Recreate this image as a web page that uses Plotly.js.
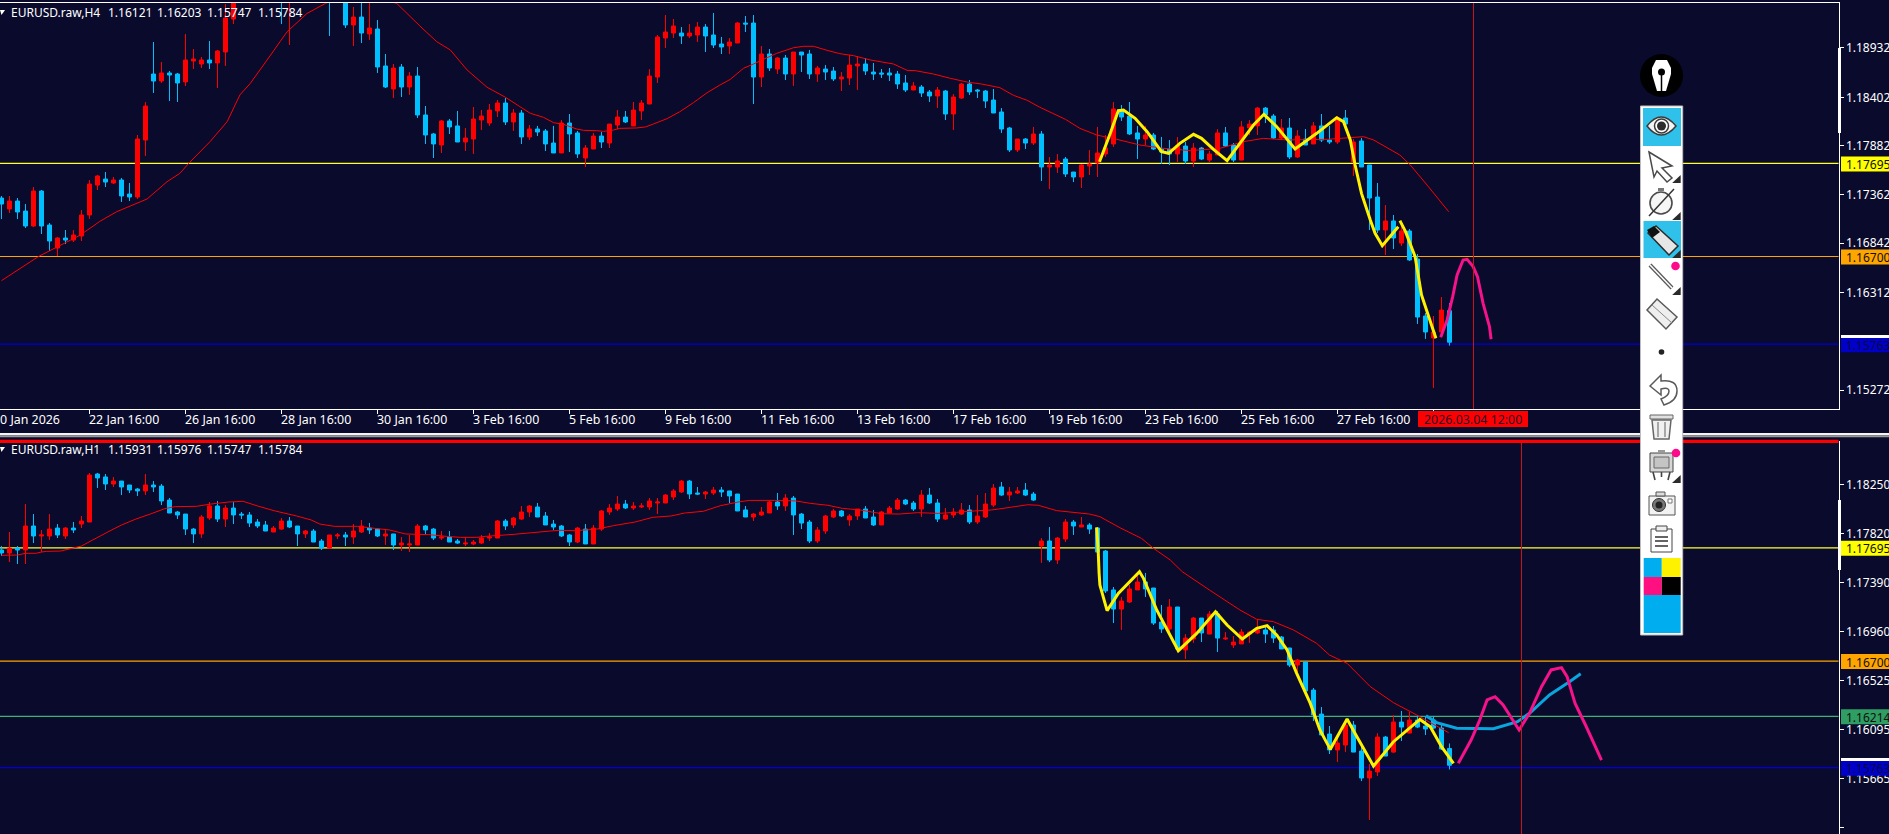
<!DOCTYPE html>
<html><head><meta charset="utf-8">
<script src="https://cdn.plot.ly/plotly-3.0.1.min.js"></script>
<style>html,body{margin:0;padding:0;background:#090A2C;overflow:hidden}#chart{width:1889px;height:834px}</style>
</head><body><div id="chart"></div>
<script>
// ---------- EURUSD H4 candles ----------
const h4Open=[1.17325,1.17208,1.17293,1.17186,1.17026,1.17400,1.17037,1.16791,1.16898,1.16876,
1.16919,1.17144,1.17464,1.17528,1.17486,1.17518,1.17368,1.17336,1.17945,1.18651,
1.18576,1.18662,1.18651,1.18566,1.18790,1.18758,1.18801,1.18769,1.18886,1.19239,
1.19517,1.19650,1.19780,1.19900,1.19800,1.20020,1.19500,1.19800,1.19600,1.19520,
1.19700,1.19850,1.19500,1.19600,1.19175,1.19260,1.19079,1.19132,1.18737,1.18491,
1.18726,1.18512,1.18630,1.18213,1.18010,1.17892,1.18149,1.18096,1.17924,1.17956,
1.18159,1.18127,1.18256,1.18341,1.18138,1.18234,1.17978,1.18063,1.18042,1.17913,
1.17807,1.18127,1.18021,1.17753,1.17849,1.17988,1.17913,1.18106,1.18191,1.18096,
1.18256,1.18330,1.18619,1.19036,1.19089,1.19089,1.19057,1.19068,1.19153,1.19068,
1.18972,1.18950,1.18982,1.19196,1.19196,1.18619,1.18865,1.18704,1.18822,1.18651,
1.18886,1.18865,1.18651,1.18704,1.18683,1.18598,1.18608,1.18737,1.18758,1.18672,
1.18662,1.18662,1.18651,1.18555,1.18480,1.18512,1.18459,1.18416,1.18469,1.18223,
1.18394,1.18544,1.18480,1.18469,1.18373,1.18245,1.18074,1.17839,1.17956,1.17913,
1.18010,1.17657,1.17657,1.17742,1.17603,1.17550,1.17667,1.17700,1.17796,1.17903,
1.18266,1.18202,1.18021,1.17956,1.17999,1.17849,1.17849,1.17796,1.17881,1.17721,
1.17860,1.17731,1.17785,1.18021,1.17892,1.17731,1.18074,1.18096,1.18287,1.18202,
1.17967,1.18074,1.17764,1.17956,1.17903,1.18096,1.17945,1.17924,1.18181,1.17710,
1.17935,1.17678,1.17336,1.16983,1.17080,1.16844,1.16973,1.16673,1.16064,1.15829,
1.15893,1.16121];
const h4High=[1.17347,1.17347,1.17325,1.17261,1.17443,1.17411,1.17058,1.16909,1.16983,1.16983,
1.17197,1.17518,1.17571,1.17603,1.17550,1.17539,1.17486,1.17999,1.18352,1.18993,
1.18779,1.18683,1.18662,1.19079,1.18918,1.18833,1.19004,1.18908,1.19399,1.19656,
1.19720,1.19850,1.19980,1.20000,1.20080,1.20100,1.19950,1.19900,1.19800,1.19800,
1.19900,1.19950,1.19700,1.19700,1.19367,1.19450,1.19500,1.19228,1.18865,1.18758,
1.18758,1.18672,1.18726,1.18309,1.18021,1.18159,1.18170,1.18256,1.18074,1.18298,
1.18266,1.18330,1.18373,1.18394,1.18277,1.18266,1.18106,1.18096,1.18063,1.18096,
1.18159,1.18223,1.18042,1.17892,1.18021,1.18031,1.18116,1.18266,1.18256,1.18352,
1.18373,1.18704,1.19068,1.19282,1.19239,1.19153,1.19185,1.19207,1.19185,1.19303,
1.19047,1.19036,1.19207,1.19271,1.19282,1.18950,1.18918,1.18833,1.18854,1.18886,
1.18886,1.18908,1.18737,1.18747,1.18726,1.18672,1.18854,1.18843,1.18822,1.18769,
1.18704,1.18715,1.18683,1.18640,1.18566,1.18533,1.18480,1.18512,1.18480,1.18437,
1.18555,1.18587,1.18491,1.18480,1.18491,1.18287,1.18085,1.17956,1.17967,1.18085,
1.18042,1.17764,1.17796,1.17764,1.17603,1.17689,1.17839,1.18085,1.17999,1.18352,
1.18319,1.18352,1.18096,1.18096,1.18021,1.17978,1.17945,1.17978,1.17924,1.17913,
1.17871,1.17828,1.18063,1.18085,1.17913,1.18149,1.18159,1.18298,1.18298,1.18223,
1.18170,1.18181,1.18052,1.18063,1.18138,1.18223,1.18096,1.18202,1.18266,1.17956,
1.17967,1.17678,1.17486,1.17251,1.17144,1.17037,1.16994,1.16727,1.16096,1.16064,
1.16267,1.16203];
const h4Low=[1.17101,1.17165,1.17101,1.17005,1.17015,1.16941,1.16759,1.16705,1.16834,1.16855,
1.16866,1.17101,1.17411,1.17443,1.17475,1.17283,1.17293,1.17315,1.17775,1.18448,
1.18555,1.18362,1.18352,1.18523,1.18704,1.18715,1.18704,1.18501,1.18737,1.19185,
1.19450,1.19560,1.19700,1.19700,1.19750,1.19185,1.18961,1.19550,1.19480,1.19450,
1.19600,1.19057,1.19450,1.19143,1.18950,1.18982,1.19014,1.18662,1.18501,1.18394,
1.18405,1.18427,1.18181,1.17903,1.17753,1.17807,1.18010,1.17924,1.17828,1.17796,
1.18052,1.18096,1.18191,1.18106,1.18042,1.17903,1.17945,1.17988,1.17828,1.17807,
1.17807,1.17817,1.17753,1.17657,1.17849,1.17860,1.17860,1.18063,1.18127,1.18096,
1.18159,1.18330,1.18555,1.18929,1.19036,1.18972,1.19036,1.18993,1.18886,1.18929,
1.18865,1.18865,1.18982,1.19100,1.18330,1.18512,1.18683,1.18651,1.18587,1.18523,
1.18672,1.18598,1.18566,1.18587,1.18576,1.18469,1.18533,1.18480,1.18640,1.18587,
1.18608,1.18576,1.18491,1.18459,1.18480,1.18405,1.18352,1.18287,1.18159,1.18052,
1.18384,1.18427,1.18394,1.18287,1.18234,1.18021,1.17817,1.17817,1.17849,1.17892,
1.17507,1.17421,1.17593,1.17550,1.17496,1.17432,1.17571,1.17550,1.17764,1.17871,
1.18149,1.17999,1.17742,1.17892,1.17839,1.17689,1.17678,1.17710,1.17689,1.17657,
1.17731,1.17710,1.17785,1.17871,1.17710,1.17731,1.17999,1.17999,1.18127,1.17956,
1.17956,1.17742,1.17753,1.17892,1.17903,1.17924,1.17903,1.17903,1.18106,1.17561,
1.17657,1.16983,1.16951,1.16716,1.16780,1.16812,1.16652,1.15979,1.15819,1.15295,
1.15893,1.15747];
const h4Close=[1.17261,1.17293,1.17176,1.17026,1.17400,1.17026,1.16866,1.16898,1.16876,1.16930,
1.17144,1.17475,1.17561,1.17496,1.17518,1.17347,1.17336,1.17956,1.18309,1.18576,
1.18662,1.18640,1.18555,1.18801,1.18811,1.18801,1.18769,1.18897,1.19250,1.19517,
1.19650,1.19780,1.19900,1.19800,1.20020,1.19900,1.19800,1.19600,1.19520,1.19700,
1.19850,1.19500,1.19600,1.19175,1.19260,1.19089,1.19143,1.18726,1.18512,1.18715,
1.18512,1.18630,1.18213,1.17999,1.17903,1.18149,1.18085,1.17924,1.17967,1.18170,
1.18202,1.18266,1.18341,1.18138,1.18234,1.17978,1.18063,1.18031,1.17903,1.17807,
1.18127,1.18010,1.17796,1.17860,1.17988,1.17924,1.18116,1.18191,1.18138,1.18266,
1.18341,1.18630,1.19047,1.19100,1.19164,1.19057,1.19089,1.19153,1.19057,1.18961,
1.18940,1.18993,1.19196,1.19185,1.18619,1.18865,1.18715,1.18822,1.18651,1.18886,
1.18854,1.18651,1.18715,1.18672,1.18598,1.18619,1.18747,1.18758,1.18683,1.18651,
1.18651,1.18640,1.18544,1.18480,1.18523,1.18448,1.18416,1.18480,1.18223,1.18405,
1.18544,1.18459,1.18469,1.18362,1.18234,1.18063,1.17839,1.17956,1.17913,1.18010,
1.17657,1.17678,1.17721,1.17582,1.17550,1.17678,1.17689,1.17807,1.17860,1.18277,
1.18191,1.18010,1.17956,1.17999,1.17849,1.17817,1.17796,1.17881,1.17721,1.17860,
1.17742,1.17796,1.18021,1.17881,1.17731,1.18085,1.18116,1.18287,1.18213,1.17967,
1.18074,1.17764,1.17988,1.17892,1.18096,1.17945,1.17924,1.18181,1.18116,1.17924,
1.17657,1.17325,1.16983,1.17080,1.16898,1.16973,1.16663,1.16053,1.15893,1.15893,
1.16128,1.15784];

// ---------- EURUSD H1 candles ----------
const h1Open=[1.17676,1.17650,1.17693,1.17676,1.17887,1.17799,1.17799,1.17869,1.17799,1.17869,
1.17904,1.17922,1.18344,1.18318,1.18256,1.18282,1.18247,1.18212,1.18195,1.18247,
1.18238,1.18115,1.18010,1.17992,1.17860,1.17817,1.17957,1.18063,1.17948,1.18045,
1.17992,1.17984,1.17922,1.17896,1.17834,1.17860,1.17931,1.17887,1.17817,1.17843,
1.17755,1.17693,1.17799,1.17808,1.17790,1.17834,1.17869,1.17860,1.17799,1.17817,
1.17720,1.17720,1.17720,1.17887,1.17860,1.17781,1.17790,1.17755,1.17729,1.17729,
1.17737,1.17781,1.17781,1.17931,1.17896,1.17948,1.18010,1.18054,1.17975,1.17904,
1.17887,1.17808,1.17746,1.17860,1.17729,1.17860,1.18010,1.18036,1.18080,1.18045,
1.18054,1.18054,1.18089,1.18089,1.18142,1.18186,1.18282,1.18177,1.18168,1.18177,
1.18203,1.18195,1.18168,1.18028,1.17966,1.17984,1.18001,1.18098,1.18063,1.18133,
1.17992,1.17922,1.17755,1.17843,1.17966,1.18019,1.17940,1.17975,1.18036,1.17966,
1.17896,1.18001,1.18036,1.18115,1.18089,1.18036,1.18159,1.18089,1.17948,1.17984,
1.17992,1.18028,1.17922,1.17966,1.18071,1.18230,1.18159,1.18177,1.18203,1.18168,
1.17711,1.17755,1.17588,1.17773,1.17922,1.17878,1.17896,1.17869,1.17667,1.17325,
1.17157,1.17219,1.17325,1.17395,1.17342,1.17043,1.16982,1.17175,1.16797,1.16894,
1.17078,1.16937,1.17113,1.16894,1.16841,1.16850,1.16937,1.16947,1.16973,1.16973,
1.16911,1.16815,1.16665,1.16691,1.16445,1.16234,1.16059,1.15918,1.15962,1.16138,
1.15909,1.15672,1.15725,1.16032,1.15900,1.16164,1.16067,1.16182,1.16129,1.16182,
1.16111,1.15931];
const h1High=[1.17711,1.17834,1.17711,1.18080,1.17992,1.17852,1.17992,1.17904,1.17878,1.17922,
1.17975,1.18353,1.18353,1.18344,1.18318,1.18282,1.18247,1.18221,1.18344,1.18282,
1.18256,1.18133,1.18019,1.17992,1.17869,1.17984,1.18098,1.18107,1.18071,1.18098,
1.18010,1.18010,1.17948,1.17931,1.17887,1.17957,1.17966,1.17887,1.17852,1.17860,
1.17773,1.17808,1.17825,1.17834,1.17904,1.17940,1.17913,1.17869,1.17852,1.17817,
1.17790,1.17808,1.17904,1.17896,1.17869,1.17843,1.17843,1.17773,1.17790,1.17764,
1.17808,1.17825,1.17940,1.17948,1.17966,1.18063,1.18071,1.18089,1.18010,1.17940,
1.17896,1.17817,1.17878,1.17904,1.17896,1.18028,1.18080,1.18151,1.18115,1.18098,
1.18089,1.18133,1.18133,1.18168,1.18212,1.18291,1.18291,1.18230,1.18195,1.18230,
1.18230,1.18195,1.18168,1.18063,1.18001,1.18054,1.18107,1.18177,1.18168,1.18151,
1.18001,1.17940,1.17878,1.17984,1.18036,1.18028,1.17992,1.18036,1.18063,1.18028,
1.18019,1.18063,1.18133,1.18124,1.18107,1.18203,1.18221,1.18124,1.18045,1.18045,
1.18089,1.18071,1.18159,1.18177,1.18256,1.18274,1.18230,1.18230,1.18265,1.18186,
1.17781,1.17878,1.17790,1.17948,1.17940,1.17966,1.17913,1.17878,1.17676,1.17351,
1.17263,1.17368,1.17474,1.17474,1.17342,1.17193,1.17245,1.17175,1.16937,1.17087,
1.17078,1.17140,1.17140,1.16955,1.16920,1.16982,1.16964,1.17069,1.17008,1.17008,
1.16920,1.16815,1.16718,1.16700,1.16463,1.16296,1.16129,1.16059,1.16182,1.16173,
1.15962,1.15795,1.16067,1.16041,1.16226,1.16261,1.16252,1.16226,1.16217,1.16217,
1.16156,1.15976];
const h1Low=[1.17623,1.17570,1.17553,1.17553,1.17737,1.17658,1.17764,1.17781,1.17773,1.17825,
1.17869,1.17922,1.18221,1.18203,1.18230,1.18159,1.18177,1.18151,1.18159,1.18186,
1.18071,1.18001,1.17948,1.17808,1.17737,1.17781,1.17940,1.17922,1.17878,1.17904,
1.17948,1.17878,1.17869,1.17843,1.17834,1.17852,1.17869,1.17711,1.17781,1.17746,
1.17676,1.17685,1.17773,1.17711,1.17729,1.17825,1.17817,1.17790,1.17720,1.17676,
1.17667,1.17658,1.17720,1.17817,1.17764,1.17764,1.17746,1.17729,1.17711,1.17720,
1.17729,1.17755,1.17781,1.17852,1.17869,1.17940,1.17966,1.17966,1.17896,1.17852,
1.17790,1.17711,1.17737,1.17729,1.17729,1.17843,1.17984,1.18019,1.18036,1.18028,
1.18045,1.18028,1.17992,1.18089,1.18115,1.18177,1.18124,1.18159,1.18124,1.18159,
1.18142,1.18089,1.18019,1.17966,1.17931,1.17975,1.18001,1.18028,1.18019,1.17808,
1.17860,1.17737,1.17737,1.17817,1.17957,1.17966,1.17887,1.17940,1.17957,1.17887,
1.17896,1.18001,1.18028,1.18071,1.18019,1.17966,1.18080,1.17922,1.17940,1.17957,
1.17984,1.17904,1.17904,1.17957,1.18054,1.18151,1.18107,1.18168,1.18151,1.18107,
1.17562,1.17570,1.17553,1.17746,1.17808,1.17878,1.17817,1.17658,1.17298,1.17034,
1.16973,1.17210,1.17325,1.17263,1.17017,1.16947,1.16947,1.16797,1.16718,1.16859,
1.16867,1.16937,1.16779,1.16885,1.16815,1.16850,1.16859,1.16937,1.16859,1.16859,
1.16806,1.16647,1.16604,1.16428,1.16173,1.16050,1.15883,1.15812,1.15900,1.15900,
1.15645,1.15303,1.15689,1.15865,1.15892,1.15997,1.16067,1.16111,1.16050,1.16103,
1.15918,1.15747];
const h1Close=[1.17650,1.17693,1.17676,1.17887,1.17799,1.17808,1.17860,1.17808,1.17869,1.17852,
1.17931,1.18335,1.18309,1.18256,1.18282,1.18230,1.18203,1.18195,1.18247,1.18230,
1.18107,1.18001,1.17984,1.17860,1.17817,1.17966,1.18063,1.17948,1.18045,1.17984,
1.17984,1.17913,1.17887,1.17843,1.17869,1.17931,1.17878,1.17817,1.17843,1.17746,
1.17693,1.17808,1.17808,1.17790,1.17843,1.17887,1.17852,1.17799,1.17817,1.17720,
1.17737,1.17729,1.17887,1.17852,1.17781,1.17790,1.17746,1.17737,1.17737,1.17746,
1.17781,1.17790,1.17931,1.17887,1.17957,1.18010,1.18063,1.17966,1.17896,1.17878,
1.17799,1.17746,1.17869,1.17729,1.17869,1.18019,1.18045,1.18080,1.18045,1.18063,
1.18063,1.18107,1.18098,1.18159,1.18195,1.18282,1.18168,1.18168,1.18186,1.18203,
1.18186,1.18151,1.18019,1.17966,1.17992,1.18010,1.18098,1.18063,1.18133,1.17984,
1.17913,1.17755,1.17852,1.17975,1.18019,1.17975,1.17975,1.18036,1.17957,1.17896,
1.18010,1.18045,1.18115,1.18080,1.18036,1.18159,1.18089,1.17948,1.17984,1.18010,
1.18028,1.17922,1.17975,1.18080,1.18221,1.18159,1.18186,1.18195,1.18159,1.18115,
1.17755,1.17588,1.17781,1.17922,1.17887,1.17896,1.17860,1.17658,1.17316,1.17157,
1.17228,1.17334,1.17395,1.17334,1.17034,1.16982,1.17175,1.16806,1.16902,1.17078,
1.16947,1.17113,1.16902,1.16902,1.16867,1.16955,1.16955,1.16973,1.16937,1.16902,
1.16806,1.16665,1.16709,1.16437,1.16226,1.16050,1.15918,1.15979,1.16138,1.15900,
1.15672,1.15733,1.16032,1.15865,1.16164,1.16120,1.16182,1.16120,1.16103,1.16111,
1.15927,1.15784];
const barIndex=h4Open.map((_,i)=>i);

// ---------- moving averages (bar number, price) ----------
const h4MaBar=[0,4.6,9.8,12.3,14.4,18.2,20.7,22.3,23.4,26.1,28.2,29.8,31.1,33.2,35.7,38.2,40.5,43.2,45.7,49.4,52.3,54.4,56.1,58.2,60.7,63,64.8,66.1,67.75,69,70.25,71.9,72.75,74.4,75.25,76.5,77.3,79.4,80.5,81.5,83.2,84.8,86.5,88.2,89.8,91.1,92.75,94,95.25,96.9,99,100.25,101.5,103.2,104.8,106.5,108.6,111.5,113.2,114.2,116.5,118.6,120.7,122.5,124.8,126.5,128.2,129.8,133,134.8,136.9,139.4,142.3,145.25,148.6,152.3,155.25,157.75,160.7,165.7,170.25,171.5,174.8,176.1,178.2,180.9];
const h4MaPrice=[1.16442,1.16699,1.16927,1.17076,1.17179,1.17315,1.17500,1.17589,1.17696,1.17931,1.18141,1.18427,1.18551,1.18801,1.19103,1.19299,1.19406,1.19495,1.19495,1.19406,1.19164,1.18997,1.18908,1.18694,1.18509,1.18402,1.18302,1.18231,1.18188,1.18131,1.18113,1.18063,1.18049,1.18045,1.18038,1.18052,1.18070,1.18074,1.18085,1.18117,1.18174,1.18248,1.18345,1.18451,1.18533,1.18594,1.18712,1.18758,1.18808,1.18872,1.18932,1.18947,1.18947,1.18904,1.18868,1.18847,1.18801,1.18758,1.18690,1.18687,1.18651,1.18605,1.18565,1.18544,1.18505,1.18423,1.18370,1.18295,1.18166,1.18070,1.17999,1.17953,1.17892,1.17856,1.17832,1.17856,1.17928,1.17963,1.17946,1.17953,1.17981,1.17946,1.17785,1.17678,1.17464,1.17179];
const h1MaBar=[0,2,3,4.3,5,5.6,7.4,8.3,10,11.4,13.2,15,16.8,18.6,20.4,21.7,24.4,26.2,28.4,30.2,32,34.2,36.9,38.7,39.8,41.6,44.5,46.7,48.5,50.5,53.4,55.6,57.4,59.4,60.5,62.3,64.1,66.3,68.6,69.8,71.6,74.3,76.5,79.2,81.4,83.7,85.4,87.7,89.9,92.1,93.5,96.6,99.3,101.1,103.3,105.1,107.3,110,112.2,114.5,117.1,119.4,121.6,123.8,126.1,128.3,129.6,131.9,136,137.3,139.8,142.5,144,146.1,147.6,151,154.8,156.9,159,161.5,164.4,166,168.2,171.1,174,176.9,180.9];
const h1MaPrice=[1.17629,1.17632,1.17647,1.17647,1.17658,1.17664,1.17667,1.17682,1.17711,1.17764,1.17831,1.17896,1.17948,1.17992,1.18039,1.18057,1.18060,1.18080,1.18098,1.18104,1.18063,1.18019,1.17975,1.17940,1.17904,1.17884,1.17884,1.17866,1.17852,1.17817,1.17811,1.17796,1.17787,1.17787,1.17796,1.17805,1.17814,1.17828,1.17843,1.17849,1.17846,1.17858,1.17890,1.17922,1.17963,1.17975,1.18001,1.18016,1.18066,1.18098,1.18112,1.18112,1.18107,1.18086,1.18069,1.18042,1.18028,1.17995,1.17992,1.18004,1.17998,1.18007,1.18019,1.18028,1.18051,1.18074,1.18069,1.18022,1.17992,1.17969,1.17872,1.17778,1.17691,1.17588,1.17485,1.17324,1.17149,1.17067,1.17046,1.16973,1.16855,1.16753,1.16680,1.16475,1.16334,1.16226,1.16070];

// ---------- hand-drawn pen strokes (bar number, price) ----------
const h4YellowBar1=[137.25,138.6,139.6,140.25,141.7,143.2,145,145.9,147.3,149,150,151.5,153.2,154.8,156.5,157.8,159.4,161.7,164.4,166.9,167.75,168.6,169.2,170,171.1,171.7,172.6,174.6];
const h4YellowPrice1=[1.17714,1.18017,1.18259,1.18266,1.18177,1.18035,1.17821,1.17803,1.17910,1.18006,1.17963,1.17846,1.17725,1.17910,1.18106,1.18220,1.18088,1.17849,1.18017,1.18184,1.18142,1.17946,1.17678,1.17375,1.17090,1.16948,1.16816,1.17019];
const h4YellowBar2=[174.8,175.5,176.7,177.5,179.3];
const h4YellowPrice2=[1.17083,1.16966,1.16699,1.16289,1.15826];
const h4PinkBar=[179.9,180.7,181.4,181.95,182.7,183.2,183.95,184.5,185.2,186,186.2];
const h4PinkPrice=[1.15836,1.16022,1.16271,1.16503,1.16663,1.16670,1.16592,1.16485,1.16200,1.15950,1.15815];
const h1YellowBar=[136.9,137.1,137.2,137.3,138.2,139.6,142.25,142.75,144.4,147.1,149.4,151.75,153.2,155.1,156.9,158.2,159.4,160.7,161.9,163.6,164.8,166.1,168.2,169.2,171.5,174,177.3,178.6,180,181.5];
const h1YellowPrice=[1.17875,1.17647,1.17471,1.17368,1.17143,1.17295,1.17485,1.17427,1.17149,1.16791,1.16943,1.17134,1.17017,1.16894,1.16987,1.17011,1.16929,1.16797,1.16592,1.16328,1.16094,1.15924,1.16190,1.16064,1.15777,1.15991,1.16187,1.16123,1.15947,1.15801];
const h1BlueBar=[178.06,179.4,181.9,186.5,189.5,191,193.5,196,197.4];
const h1BluePrice=[1.16220,1.16159,1.16109,1.16106,1.16167,1.16241,1.16402,1.16519,1.16589];
const h1PinkBar=[182.1,183.7,184.7,185.7,186.7,187.7,189.7,191,192.5,193.7,195,195.7,196.7,198,200];
const h1PinkPrice=[1.15801,1.16006,1.16167,1.16358,1.16387,1.16314,1.16094,1.16241,1.16475,1.16622,1.16642,1.16563,1.16328,1.16138,1.15830];

// ---------- axes, levels and texts ----------
const h4Ticks=[1.18932,1.18402,1.17882,1.17362,1.16842,1.16312,1.15272];
const h1Ticks=[1.18250,1.17820,1.17390,1.16960,1.16525,1.16095,1.15665,1.15235];
const dateTickBars=[11,23,35,47,59,71,83,95,107,119,131,143,155,167,179];
const dateLabelBars=[-1,11,23,35,47,59,71,83,95,107,119,131,143,155,167];
const dateLabels=['20 Jan 2026','22 Jan 16:00','26 Jan 16:00','28 Jan 16:00','30 Jan 16:00','3 Feb 16:00','5 Feb 16:00','9 Feb 16:00','11 Feb 16:00','13 Feb 16:00','17 Feb 16:00','19 Feb 16:00','23 Feb 16:00','25 Feb 16:00','27 Feb 16:00'];
const h4Levels=[1.17695,1.16700,1.15763];
const h4LevelColors=['#FFFF33','#FFA500','#0000D8'];
const h1Levels=[1.17695,1.16700,1.16214,1.15763];
const h1LevelColors=['#FFFF33','#FFA500','#3CB371','#0000D8'];
const h4Crosshair=184, h1Crosshair=190;
const h4Name='EURUSD.raw,H4', h1Name='EURUSD.raw,H1';
const h4Quote=['1.16121','1.16203','1.15747','1.15784'];
const h1Quote=['1.15931','1.15976','1.15747','1.15784'];
const crossLabel='2026.03.04 12:00';

// ---------- styling / page geometry ----------
const W=1889,H=834,BG='#090A2C',FONT='"Noto Sans", sans-serif';
const PX=x=>x/W, PY=y=>1-y/H;
const toPaper=d=>d.replace(/(-?[\d.]+)[ ,]+(-?[\d.]+)/g,(m,a,b)=>PX(+a)+' '+PY(+b));
const shapes=[];
const rect=(x0,y0,x1,y1,fill,line,layer)=>shapes.push({type:'rect',xref:'paper',yref:'paper',x0:PX(x0),x1:PX(x1),y0:PY(y0),y1:PY(y1),fillcolor:fill,line:line?{color:line,width:1}:{width:0},layer:layer||'above'});
const circ=(cx,cy,r,fill,line,w)=>shapes.push({type:'circle',xref:'paper',yref:'paper',x0:PX(cx-r),x1:PX(cx+r),y0:PY(cy-r),y1:PY(cy+r),fillcolor:fill,line:line?{color:line,width:w||1}:{width:0},layer:'above'});
const path=(d,fill,line,w)=>shapes.push({type:'path',xref:'paper',yref:'paper',path:toPaper(d),fillcolor:fill||'rgba(0,0,0,0)',line:line?{color:line,width:w||1}:{width:0},layer:'above'});

// levels drawn behind the candles, crosshairs
h4Levels.forEach((v,i)=>shapes.push({type:'line',xref:'x',yref:'y',x0:-1,x1:230,y0:v,y1:v,line:{color:h4LevelColors[i],width:1.2},layer:'below'}));
h1Levels.forEach((v,i)=>shapes.push({type:'line',xref:'x2',yref:'y2',x0:-1,x1:230,y0:v,y1:v,line:{color:h1LevelColors[i],width:1.2},layer:'below'}));
shapes.push({type:'line',xref:'x',yref:'paper',x0:h4Crosshair,x1:h4Crosshair,y0:PY(409),y1:PY(3),line:{color:'#C8141A',width:1},layer:'above'});
shapes.push({type:'line',xref:'x2',yref:'paper',x0:h1Crosshair,x1:h1Crosshair,y0:0,y1:PY(441),line:{color:'#C8141A',width:1},layer:'above'});

// price tags on the right-hand scale
const tagFill=c=>c==='#0000D8'?'#0000C8':(c==='#3CB371'?'#2E9E62':(c==='#FFFF33'?'#FFFF00':c));
const anns=[];
function tag(v,c,y){
  shapes.push({type:'rect',xref:'paper',yref:y,ysizemode:'pixel',yanchor:v,x0:PX(1841),x1:1,y0:-8,y1:7,fillcolor:tagFill(c),line:{width:0},layer:'above'});
  anns.push({xref:'paper',yref:y,x:PX(1844),y:v,xanchor:'left',yanchor:'middle',yshift:-1,text:v.toFixed(5),showarrow:false,font:{family:FONT,size:12,color:c==='#0000D8'?'#0A0A40':'#101010'}});
}
h4Levels.forEach((v,i)=>tag(v,h4LevelColors[i],'y'));
h1Levels.forEach((v,i)=>tag(v,h1LevelColors[i],'y2'));
rect(1841,335,1889,338,'#FFFFFF');
rect(1841,758,1889,761,'#FFFFFF');
rect(1838,48,1841,133,'#FFFFFF');
rect(1838,500,1841,570,'#FFFFFF');

// frames and pane separator
rect(0,433,1889,435.3,'#F4F4F4');
rect(0,435.3,1889,437.3,'#9A9A9A');
rect(0,439.7,1838.5,443,'#FF0000');
rect(1418,411,1528,427,'#FF0000');
anns.push({xref:'paper',yref:'paper',x:PX(1473),y:PY(419),xanchor:'center',yanchor:'middle',text:crossLabel,showarrow:false,font:{family:FONT,size:12.4,color:'#2A0A2C'}});

// date labels (start at their tick, as the terminal draws them)
dateLabelBars.forEach((b,i)=>anns.push({xref:'paper',yref:'paper',x:PX(1.5+8*b-2.5),y:PY(419.5),xanchor:'left',yanchor:'middle',text:dateLabels[i],showarrow:false,font:{family:FONT,size:12.4,color:'#FFFFFF'}}));
// pane captions: symbol name, then the four quotes at their own places
const quoteStarts=[105.6,154.6,204.6,255.6];
[[h4Name,h4Quote,12.5],[h1Name,h1Quote,449.5]].forEach(([n,q,y])=>{
  anns.push({xref:'paper',yref:'paper',x:PX(8.6),y:PY(y),xanchor:'left',yanchor:'middle',text:n,showarrow:false,font:{family:FONT,size:12,color:'#FFFFFF'}});
  q.forEach((t,i)=>anns.push({xref:'paper',yref:'paper',x:PX(quoteStarts[i]),y:PY(y),xanchor:'left',yanchor:'middle',text:t,showarrow:false,font:{family:FONT,size:12,color:'#FFFFFF'}}));
  path(`M0 ${y-2.5} L5 ${y-2.5} L1.5 ${y+2.5} Z`,'#FFFFFF');
});

// ---------- floating drawing toolbar ----------
const G='#4A4A4A';
circ(1661.5,75.5,21.5,'#000000');
path('M1656 60 L1667 60 L1671 68 L1671 74 L1666 91 L1657 91 L1652 74 L1652 68 Z','#FFFFFF');
circ(1661.5,72,3.5,'#000000');
path('M1661.5 75 L1661.5 91','', '#000000',1.5);
rect(1640.5,106,1682.7,635,'#FFFFFF','#BDBDBD');
rect(1643,108,1681,146,'#2FC1EA');
path('M1647 126 Q1661 108 1676 126 Q1661 144 1647 126 Z','#F4F4F4','#3A3A3A',1.5);
circ(1661.5,126,7,'#FFFFFF','#3A3A3A',1.5);
circ(1661.5,126,4.5,'#2B2B2B');
path('M1649 152 L1672 166 L1662 168 L1672 178 L1667 182 L1657 171 L1654 177 Z','#FFFFFF',G,1.5);
const corner=(x,y)=>path(`M${x} ${y-8} L${x} ${y} L${x-8.5} ${y} Z`,'#2A2A2A');
corner(1680.7,183);
circ(1661,203,11,'#F6F6F6',G,1.6);
rect(1658,188,1664,191,'#777777');
path('M1674 189 L1649 216','', '#333333',1.5);
corner(1680.7,220);
rect(1643.5,221,1681,258,'#2FC1EA');
path('M1648 233 L1656 226 L1678 246 L1669 255 Z','#E6E6E6','#2B2B2B',1.5);
path('M1647 230 L1654 226 L1660 232 L1652 238 Z','#111111');
corner(1680.7,258);
path('M1650 265 L1672 288','', '#5A5A5A',4);
path('M1650 265 L1672 288','', '#FFFFFF',1.5);
circ(1675.5,266,4.3,'#FF0A8C');
corner(1680.7,295);
path('M1647 310 L1657 299 L1677 317 L1666 329 Z','#EFEFEF','#5A5A5A',1.5);
path('M1652 305 L1672 323','', '#888888',1);
circ(1661.5,352,2.8,'#222222');
path('M1650 386 L1661 375 L1661 381 Q1677 379 1677 391 Q1677 401 1664 405 L1661 399 Q1669 396 1669 391 Q1669 387 1661 389 L1661 395 Z','#FFFFFF','#5A5A5A',1.5);
path('M1652 420 L1671 420 L1669 439 L1654 439 Z','#F0F0F0','#666666',1.5);
rect(1650,415,1673,419,'#E0E0E0','#666666');
path('M1658 422 L1658 437 M1665 422 L1665 437','', '#777777',1.2);
rect(1650,453,1673,472,'#D6D6D6','#444444');
rect(1654,457,1669,468,'#C4C4C4','#666666');
rect(1658,450,1665,453,'#999999');
path('M1653 472 L1655 480 M1670 472 L1668 480 M1661.5 472 L1661.5 477','', '#444444',1.6);
circ(1676,453,4.3,'#FF0A8C');
path('M1680.7 475 L1680.7 483 L1672 483 Z','#2A2A2A');
rect(1649,496,1675,515,'#F2F2F2','#555555');
rect(1656,492,1665,496,'#DDDDDD','#555555');
circ(1659,505,6.5,'#777777','#333333',1);
circ(1659,505,3.5,'#222222');
rect(1668,499,1672,503,'#FFFFFF','#777777');
rect(1651,529,1672,552,'#FFFFFF','#444444');
rect(1656,526,1667,531,'#EEEEEE','#444444');
path('M1655 537 L1668 537 M1655 541 L1668 541 M1655 546 L1668 546','', '#333333',1.3);
rect(1643.7,558,1661.8,577,'#00AEEF');
rect(1661.8,558,1680.7,577,'#FFF200');
rect(1643.7,577,1661.8,595,'#FF0F80');
rect(1661.8,577,1680.7,595,'#000000');
rect(1643.7,595,1680.7,633,'#00AEEF');

// ---------- traces ----------
const candle=(o,h,l,c,xa,ya)=>({type:'candlestick',x:barIndex,open:o,high:h,low:l,close:c,xaxis:xa,yaxis:ya,whiskerwidth:0,
  increasing:{line:{color:'#FF0000',width:1},fillcolor:'#FF0000'},decreasing:{line:{color:'#00BFFF',width:1},fillcolor:'#00BFFF'},showlegend:false,hoverinfo:'skip'});
const stroke=(x,y,c,w,xa,ya)=>({type:'scatter',mode:'lines',x,y,xaxis:xa,yaxis:ya,line:{color:c,width:w,simplify:false},showlegend:false,hoverinfo:'skip'});
const YEL='#FFF200',PNK='#F5128A',BLU='#0AA5DE',RED='#FF0000';
const data=[
  candle(h4Open,h4High,h4Low,h4Close,'x','y'),
  stroke(h4MaBar,h4MaPrice,RED,1,'x','y'),
  stroke(h4YellowBar1,h4YellowPrice1,YEL,3,'x','y'),
  stroke(h4YellowBar2,h4YellowPrice2,YEL,3,'x','y'),
  stroke(h4PinkBar,h4PinkPrice,PNK,3,'x','y'),
  candle(h1Open,h1High,h1Low,h1Close,'x2','y2'),
  stroke(h1MaBar,h1MaPrice,RED,1,'x2','y2'),
  stroke(h1YellowBar,h1YellowPrice,YEL,3,'x2','y2'),
  stroke(h1BlueBar,h1BluePrice,BLU,3,'x2','y2'),
  stroke(h1PinkBar,h1PinkPrice,PNK,3,'x2','y2')
];
const xBase={domain:[0,1838.5/1889],range:[-0.1875,229.625],type:'linear',showgrid:false,zeroline:false,showticklabels:false,rangeslider:{visible:false},fixedrange:true};
const yBase={side:'right',type:'linear',showgrid:false,zeroline:false,tickmode:'array',ticks:'outside',ticklen:4,tickwidth:1,tickcolor:'#FFFFFF',showline:true,linecolor:'#FFFFFF',linewidth:1,tickfont:{family:FONT,size:12,color:'#FFFFFF'},fixedrange:true};
const layout={width:W,height:H,margin:{l:0,r:0,t:0,b:0,pad:0},paper_bgcolor:BG,plot_bgcolor:BG,showlegend:false,hovermode:false,boxmode:'overlay',boxgap:0.5,boxgroupgap:0,dragmode:false,
  xaxis:Object.assign({},xBase,{anchor:'y',showline:true,linecolor:'#FFFFFF',linewidth:1,mirror:true,tickmode:'array',tickvals:dateTickBars,ticks:'outside',ticklen:4,tickcolor:'#FFFFFF',tickwidth:1}),
  yaxis:Object.assign({},yBase,{anchor:'x',domain:[1-409/834,1-3/834],range:[1.15070,1.19410],tickvals:h4Ticks,ticktext:h4Ticks.map(v=>v.toFixed(5))}),
  xaxis2:Object.assign({},xBase,{anchor:'y2',ticks:'',showline:false}),
  yaxis2:Object.assign({},yBase,{anchor:'x2',domain:[0,1-441/834],range:[1.15180,1.18634],tickvals:h1Ticks,ticktext:h1Ticks.map(v=>v.toFixed(5))}),
  shapes,annotations:anns};
Plotly.newPlot('chart',data,layout,{staticPlot:true,displayModeBar:false,responsive:false});
</script></body></html>
